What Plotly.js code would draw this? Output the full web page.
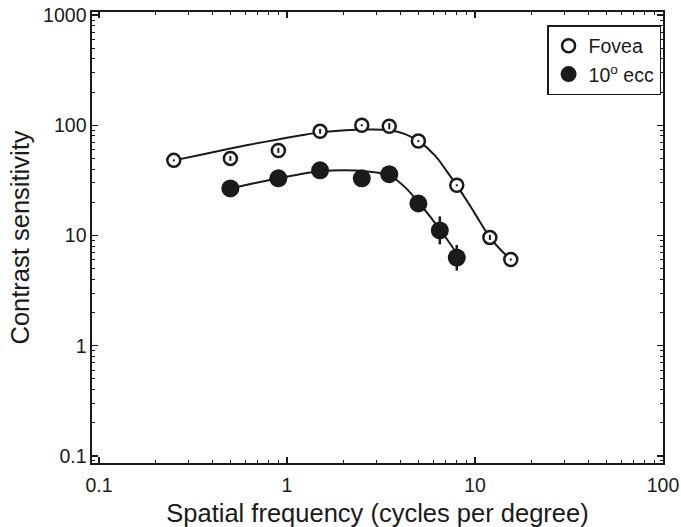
<!DOCTYPE html>
<html>
<head>
<meta charset="utf-8">
<script src="https://cdn.plot.ly/plotly-3.0.1.min.js"></script>
<style>html,body{margin:0;padding:0;background:#fff;}#chart{width:681px;height:527px;}</style>
</head>
<body>
<div id="chart"></div>
<script>
// Measured data points
const fovX = [0.25, 0.5, 0.9, 1.5, 2.5, 3.5, 5.0, 8.0, 12, 15.5];
const fovY = [48, 50, 59, 88, 100, 98, 72, 28.5, 9.6, 6.05];
const fovErrUp = [1.0, 2.7, 3.2, 4.7, 2.1, 6.5, 1.5, 0.6, 0.5, 0.13];
const fovErrDown = [1.0, 2.5, 2.9, 4.3, 2.0, 6.0, 1.5, 0.6, 0.5, 0.13];

const eccX = [0.5, 0.9, 1.5, 2.5, 3.5, 5.0, 6.5, 8.0];
const eccY = [26.7, 33, 39, 33, 36, 19.5, 11.1, 6.3];
const eccErrUp = [0.5, 0.6, 0.7, 0.6, 0.8, 1.0, 3.8, 1.9];
const eccErrDown = [0.5, 0.6, 0.7, 0.6, 0.8, 1.0, 2.8, 1.5];

// Fitted curves
const fovCurveX = [0.25, 0.344, 0.5, 0.667, 0.88, 1.17, 1.5, 2.04, 2.76, 3.5, 4.25, 5.0, 6.13, 7.18, 8.0, 9.4, 10.6, 12, 13.6, 15.5];
const fovCurveY = [48, 53.8, 61.4, 67.7, 73.9, 80.5, 86.1, 90.2, 91.5, 90, 83, 72, 53, 37, 28.5, 18.7, 13.4, 9.6, 7.5, 6.05];
const eccCurveX = [0.5, 0.667, 0.9, 1.17, 1.5, 2.04, 2.6, 3.5, 4.25, 5.0, 5.76, 6.5, 7.36, 8.0];
const eccCurveY = [26.7, 29.7, 33, 35.9, 38.2, 39, 38.2, 35.1, 27.3, 20, 14.9, 11.3, 8.46, 6.86];

const xTicks = [0.1, 1, 10, 100];
const xTickText = ['0.1', '1', '10', '100'];
const yTicks = [0.1, 1, 10, 100, 1000];
const yTickText = ['0.1', '1', '10', '100', '1000'];

const ink = '#1a1a1a';
const FONT = 'Liberation Sans, Arial, Helvetica, sans-serif';

const traces = [
  {x: fovCurveX, y: fovCurveY, mode: 'lines', line: {color: ink, width: 2, shape: 'spline', smoothing: 1}, showlegend: false, hoverinfo: 'skip'},
  {x: eccCurveX, y: eccCurveY, mode: 'lines', line: {color: ink, width: 2, shape: 'spline', smoothing: 1}, showlegend: false, hoverinfo: 'skip'},
  {x: fovX, y: fovY, mode: 'markers', name: 'Fovea',
   marker: {symbol: 'circle', size: 13, color: '#ffffff', line: {color: ink, width: 2.5}}},
  {x: fovX, y: fovY, mode: 'markers', showlegend: false, hoverinfo: 'skip',
   marker: {size: 1, color: 'rgba(0,0,0,0)'},
   error_y: {type: 'data', symmetric: false, array: fovErrUp, arrayminus: fovErrDown, thickness: 2, width: 0, color: ink}},
  {x: eccX, y: eccY, mode: 'markers', name: '10<sup>o</sup> ecc',
   marker: {symbol: 'circle', size: 18, color: ink, line: {width: 0}},
   error_y: {type: 'data', symmetric: false, array: eccErrUp, arrayminus: eccErrDown, thickness: 2.5, width: 0, color: ink}}
];

const axisCommon = {
  type: 'log', showgrid: false, zeroline: false,
  showline: true, linecolor: ink, linewidth: 1.6, mirror: 'ticks',
  ticks: 'inside', ticklen: 6, tickwidth: 1.2, tickcolor: ink,
  tickmode: 'array',
  tickfont: {family: FONT, size: 19.5, color: ink},
  minor: {dtick: 'D1', ticks: 'inside', ticklen: 3, tickwidth: 1, tickcolor: ink, showgrid: false}
};

const layout = {
  width: 681, height: 527,
  margin: {l: 92, r: 18, t: 12, b: 64},
  paper_bgcolor: '#ffffff', plot_bgcolor: '#ffffff',
  font: {family: FONT, color: ink},
  xaxis: Object.assign({}, axisCommon, {
    range: [-1.037, 2], tickvals: xTicks, ticktext: xTickText, ticklabelstandoff: 4,
    title: {text: 'Spatial frequency (cycles per degree)', font: {family: FONT, size: 25.5, color: ink}, standoff: 12}
  }),
  yaxis: Object.assign({}, axisCommon, {
    range: [-1.064, 3.027], tickvals: yTicks, ticktext: yTickText,
    title: {text: 'Contrast sensitivity', font: {family: FONT, size: 25.5, color: ink}, standoff: 6}
  }),
  legend: {
    x: 0.797, y: 0.971, xanchor: 'left', yanchor: 'top',
    bgcolor: '#ffffff', bordercolor: ink, borderwidth: 1.5,
    font: {family: FONT, size: 19.5, color: ink},
    traceorder: 'normal'
  },
  showlegend: true
};

Plotly.newPlot('chart', traces, layout, {displayModeBar: false, staticPlot: true});
</script>
</body>
</html>
